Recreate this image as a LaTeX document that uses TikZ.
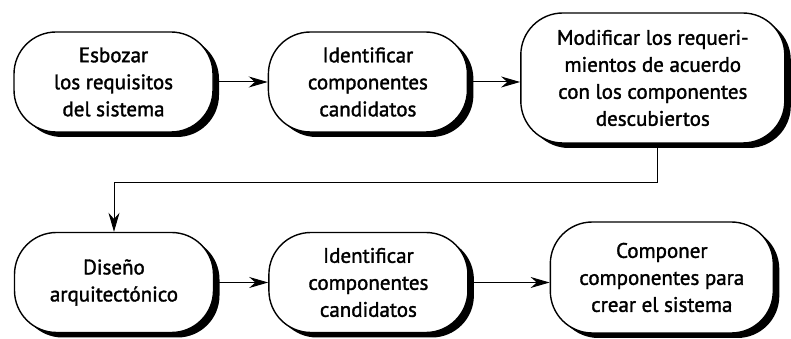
\documentclass[tikz,border=0pt]{standalone}
\usepackage{fontspec}
\setmainfont{PT Sans}
\newfontfamily\stagefont{PT Sans}[FakeBold=1.6]
\usepackage{tikz}
\usetikzlibrary{arrows.meta,positioning,shadows}

\begin{document}
\begin{tikzpicture}[
    x=1pt, y=1pt,
    node distance=54pt,
    stage/.style={rectangle, draw, line width=1.4pt, rounded corners=42pt,
                  fill=white, minimum width=199pt, minimum height=100pt,
                  align=center, font=\stagefont\fontsize{21}{27}\selectfont,
                  drop shadow={shadow xshift=6pt, shadow yshift=-5pt,
                               fill=black, opacity=1}},
    arrow/.style={-{Stealth[length=19pt, width=11pt]}, line width=1pt},
]
    \useasboundingbox (0,0) rectangle (791,339);
    \node[stage] (sketch) at (113.5,257)
         {Esbozar\\los requisitos\\del sistema};
    \node[stage, right=54pt of sketch] (find1)
         {Identificar\\componentes\\candidatos};
    \node[stage, minimum width=264pt, minimum height=130pt,
          right=52pt of find1, yshift=4pt] (modify)
         {Modificar los requeri-\\mientos de acuerdo\\con los componentes\\descubiertos};
    \node[stage] (arch) at (114,56.5)
         {Diseño\\arquitectónico};
    \node[stage, right=54pt of arch] (find2)
         {Identificar\\componentes\\candidatos};
    \node[stage, minimum width=223pt, minimum height=111pt,
          right=81pt of find2, yshift=5pt] (compose)
         {Componer\\componentes para\\crear el sistema};
    \draw[arrow] (sketch) -- (find1);
    \draw[arrow] (find1) -- (modify.west |- find1);
    \draw[arrow, line width=0.8pt] ([xshift=5pt]modify.south) -- ++(0,-39) -| (arch.north);
    \draw[arrow] (arch) -- (find2);
    \draw[arrow] (find2) -- (compose.west |- find2);
\end{tikzpicture}
\end{document}
